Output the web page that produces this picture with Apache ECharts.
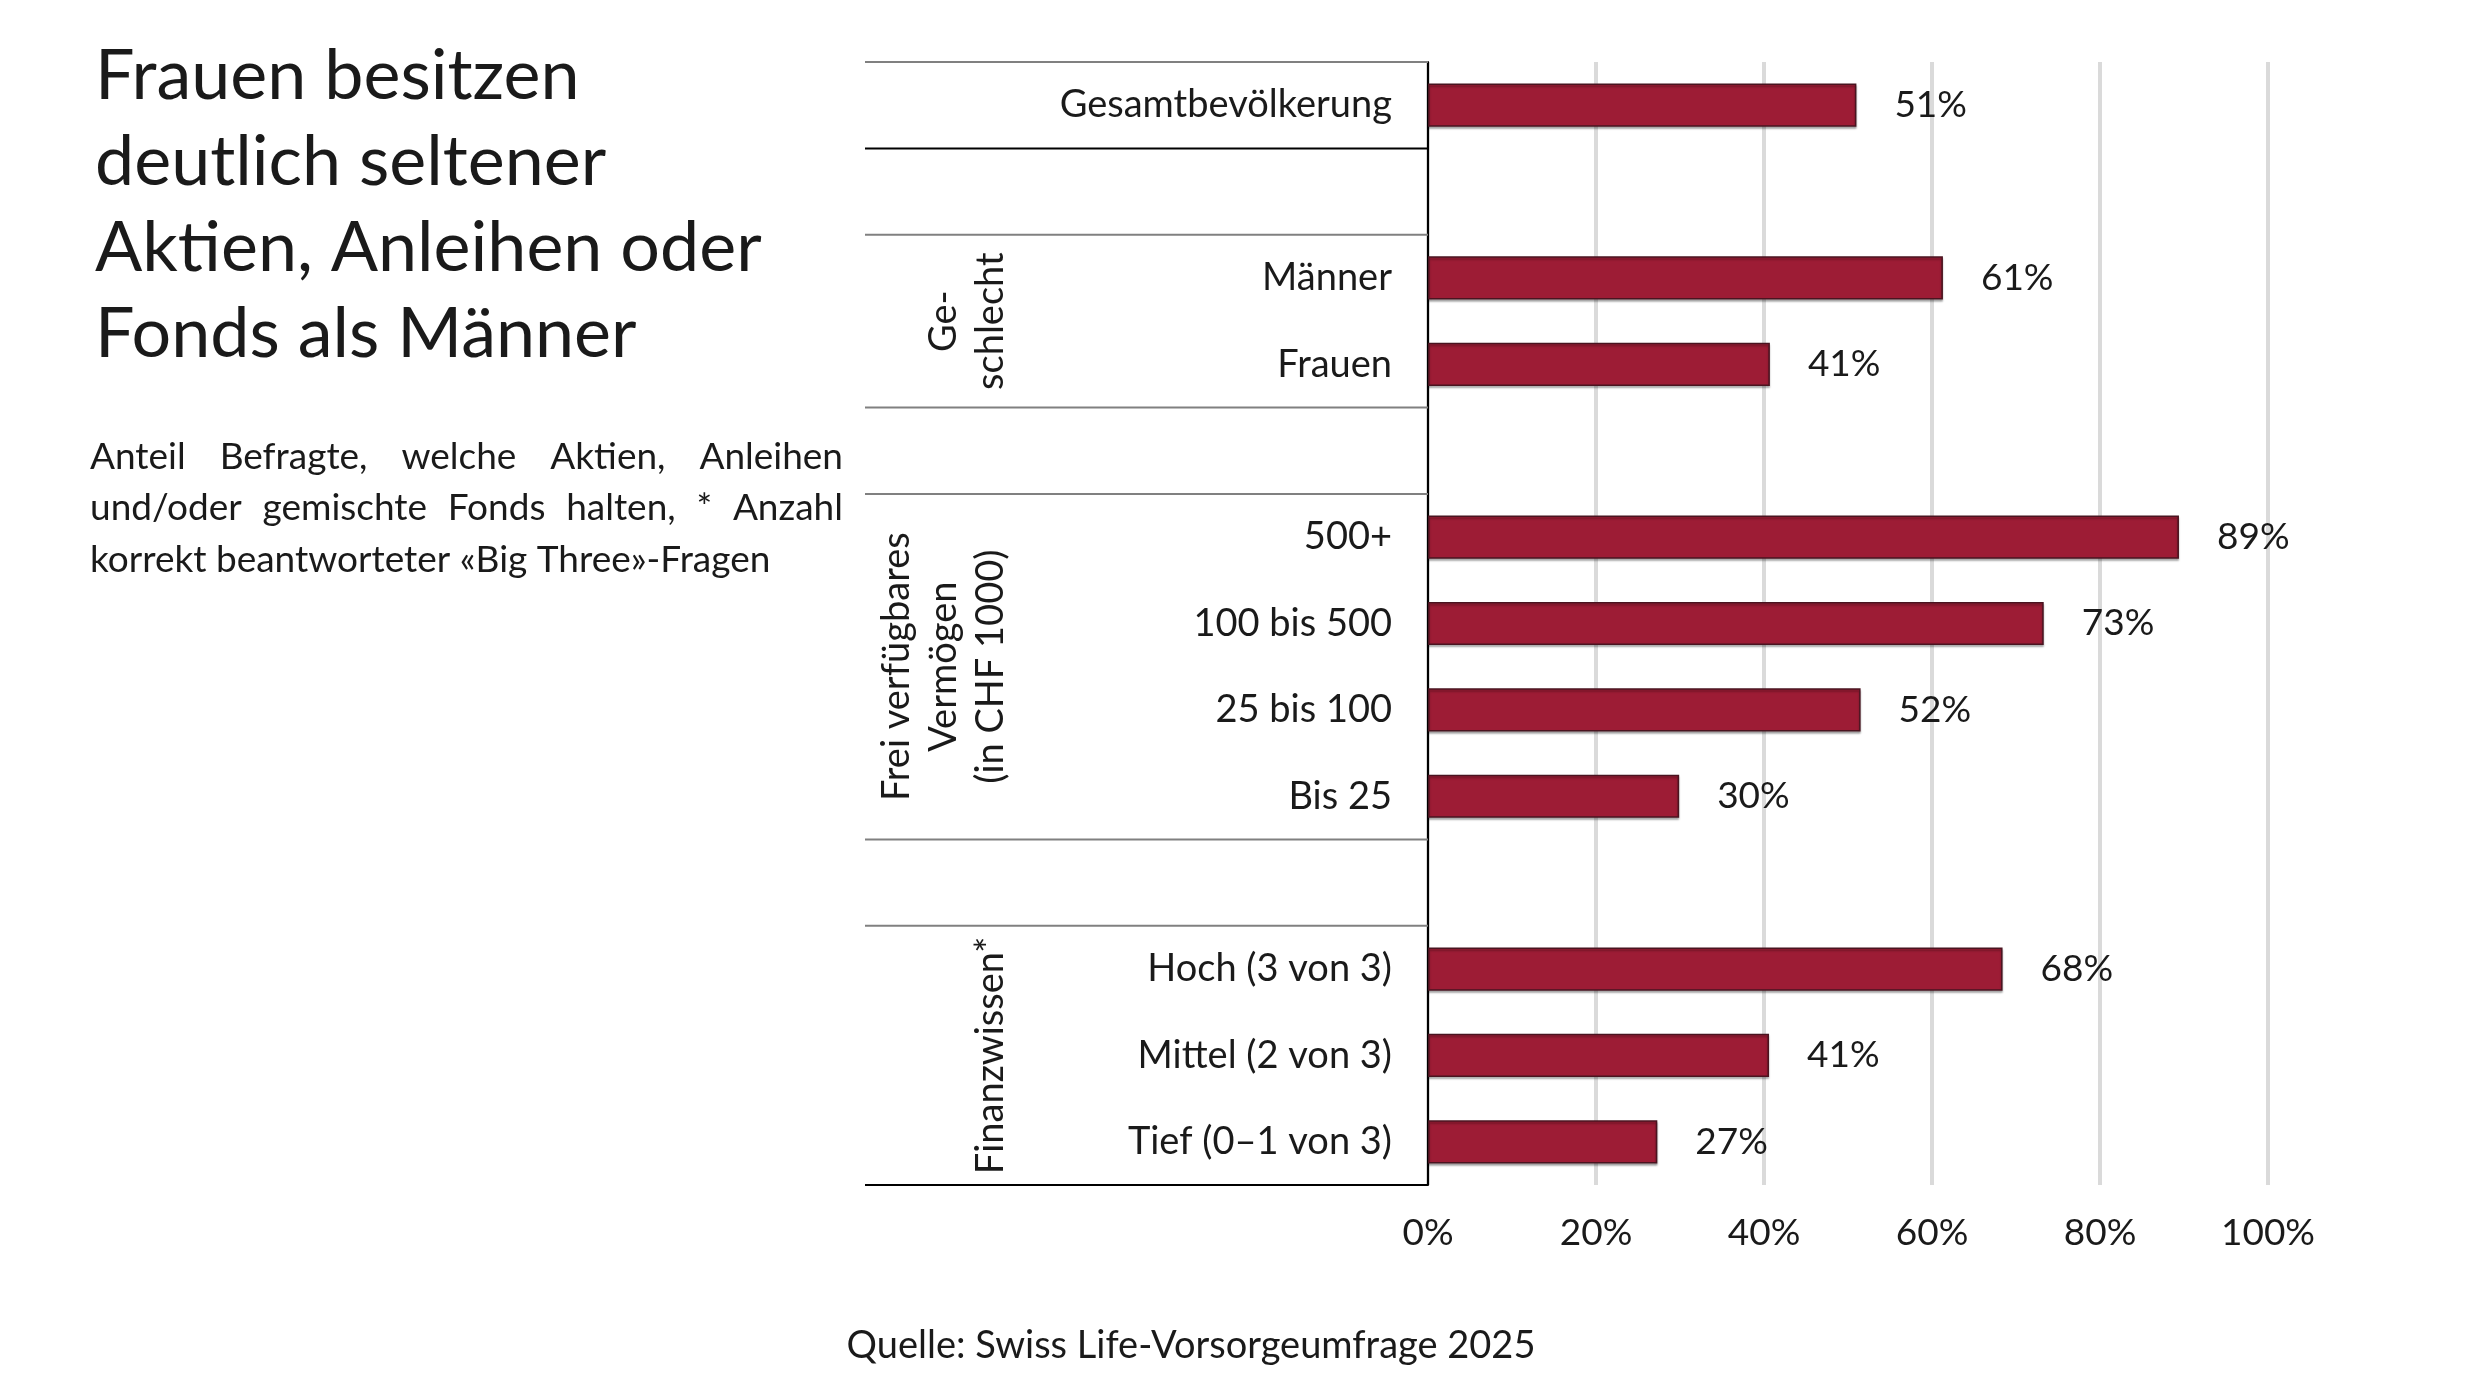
<!DOCTYPE html>
<html>
<head>
<meta charset="utf-8">
<script src="https://cdn.jsdelivr.net/npm/echarts@6/dist/echarts.min.js"></script>
<style>
  html, body { margin: 0; padding: 0; background: #fff; }
  #chart { width: 2480px; height: 1395px; }
</style>
</head>
<body>
<div id="chart"></div>
<script>
// categories, top to bottom (blank rows are spacers between groups)
const categories = ['Gesamtbevölkerung', ' ', 'Männer', 'Frauen', '  ', '500+', '100 bis 500', '25 bis 100', 'Bis 25', '   ', 'Hoch (3 von 3)', 'Mittel (2 von 3)', 'Tief (0–1 von 3)']
// bar lengths (labels show them rounded)
const shares = [51.0, null, 61.3, 40.7, null, 89.4, 73.3, 51.5, 29.9, null, 68.4, 40.6, 27.3]
const groupNames = ['Ge-\nschlecht', 'Frei verfügbares\nVermögen\n(in CHF 1000)', 'Finanzwissen*']
const groupRows = [[2, 3], [5, 8], [10, 12]]
// row boundaries with a ruled line, and which ones are black
const ruleRows = [0, 1, 2, 4, 5, 9, 10, 13]
const blackRules = [1, 13]

const FONT = 'Lato, "Open Sans", sans-serif'
const TEXT = '#1a1a1a'
const BAR = '#9d1c35'

const chart = echarts.init(document.getElementById('chart'))

chart.setOption({
  animation: false,
  backgroundColor: '#fff',
  textStyle: { fontFamily: FONT, color: TEXT },
  grid: { left: 1428, right: 212, top: 62, bottom: 210, containLabel: false },
  xAxis: {
    type: 'value',
    min: 0,
    max: 100,
    interval: 20,
    axisLine: { show: false },
    axisTick: { show: false },
    splitLine: { lineStyle: { color: '#dadada', width: 4 } },
    axisLabel: { formatter: '{value}%', fontSize: 37, color: TEXT, margin: 30, fontFamily: FONT }
  },
  yAxis: {
    type: 'category',
    inverse: true,
    data: categories,
    axisLine: { lineStyle: { color: '#000', width: 2 } },
    axisTick: { show: false },
    axisLabel: { fontSize: 38, color: TEXT, margin: 36, fontFamily: FONT }
  },
  series: [{
    type: 'bar',
    data: shares,
    barWidth: '50%',
    itemStyle: {
      color: BAR,
      borderColor: '#4a1420',
      borderWidth: 1.5,
      shadowColor: 'rgba(0,0,0,0.3)',
      shadowOffsetY: 2,
      shadowBlur: 2
    },
    label: {
      show: true,
      position: 'right',
      distance: 38,
      formatter: p => Math.round(p.value) + '%',
      fontSize: 37,
      color: TEXT,
      fontFamily: FONT
    }
  }]
})

// table rules and group labels placed from the axis scale
const y0 = chart.convertToPixel({ yAxisIndex: 0 }, 0)
const y1 = chart.convertToPixel({ yAxisIndex: 0 }, 1)
const band = y1 - y0
const edge = k => y0 - band / 2 + k * band
const tableLeft = 865
const axisX = chart.convertToPixel({ xAxisIndex: 0 }, 0)

const graphics = []
ruleRows.forEach(k => {
  graphics.push({
    type: 'line',
    shape: { x1: tableLeft, y1: edge(k), x2: axisX, y2: edge(k) },
    style: { stroke: blackRules.includes(k) ? '#000' : '#808080', lineWidth: 2 },
    z: 10
  })
})
groupNames.forEach((name, i) => {
  const [a, b] = groupRows[i]
  graphics.push({
    type: 'text',
    x: 1014,
    y: (edge(a) + edge(b + 1)) / 2,
    rotation: Math.PI / 2,
    style: {
      text: name,
      fontSize: 38,
      lineHeight: 47,
      fontFamily: FONT,
      fill: TEXT,
      align: 'center',
      verticalAlign: 'bottom'
    }
  })
})

// title
graphics.push({
  type: 'text',
  left: 95,
  top: 33,
  style: {
    text: 'Frauen besitzen\ndeutlich seltener\nAktien, Anleihen oder\nFonds als Männer',
    fontSize: 70,
    lineHeight: 86,
    fontFamily: FONT,
    fill: TEXT
  }
})

// subtitle, justified like the original
const ctx = document.createElement('canvas').getContext('2d')
const subFont = 37
ctx.font = subFont + 'px Lato'
const spaceW = ctx.measureText(' ').width
function justifiedLine(line, x0, x1, yc, justify) {
  const words = line.split(' ')
  const widths = words.map(w => ctx.measureText(w).width)
  const total = widths.reduce((s, w) => s + w, 0)
  let gap = justify ? (x1 - x0 - total) / (words.length - 1) : spaceW
  if (gap < spaceW * 0.8) gap = spaceW * 0.8
  let x = x0
  words.forEach((w, i) => {
    graphics.push({
      type: 'text',
      x: x,
      y: yc,
      style: { text: w, fontSize: subFont, fontFamily: FONT, fill: TEXT, align: 'left', verticalAlign: 'middle' }
    })
    x += widths[i] + gap
  })
}
justifiedLine('Anteil Befragte, welche Aktien, Anleihen', 90, 843, 457, true)
justifiedLine('und/oder gemischte Fonds halten, * Anzahl', 90, 843, 508, true)
justifiedLine('korrekt beantworteter «Big Three»-Fragen', 90, 843, 560, false)

// source
graphics.push({
  type: 'text',
  x: 1191,
  y: 1346,
  style: {
    text: 'Quelle: Swiss Life-Vorsorgeumfrage 2025',
    fontSize: 38,
    fontFamily: FONT,
    fill: TEXT,
    align: 'center',
    verticalAlign: 'middle'
  }
})

chart.setOption({ graphic: graphics })
</script>
</body>
</html>
